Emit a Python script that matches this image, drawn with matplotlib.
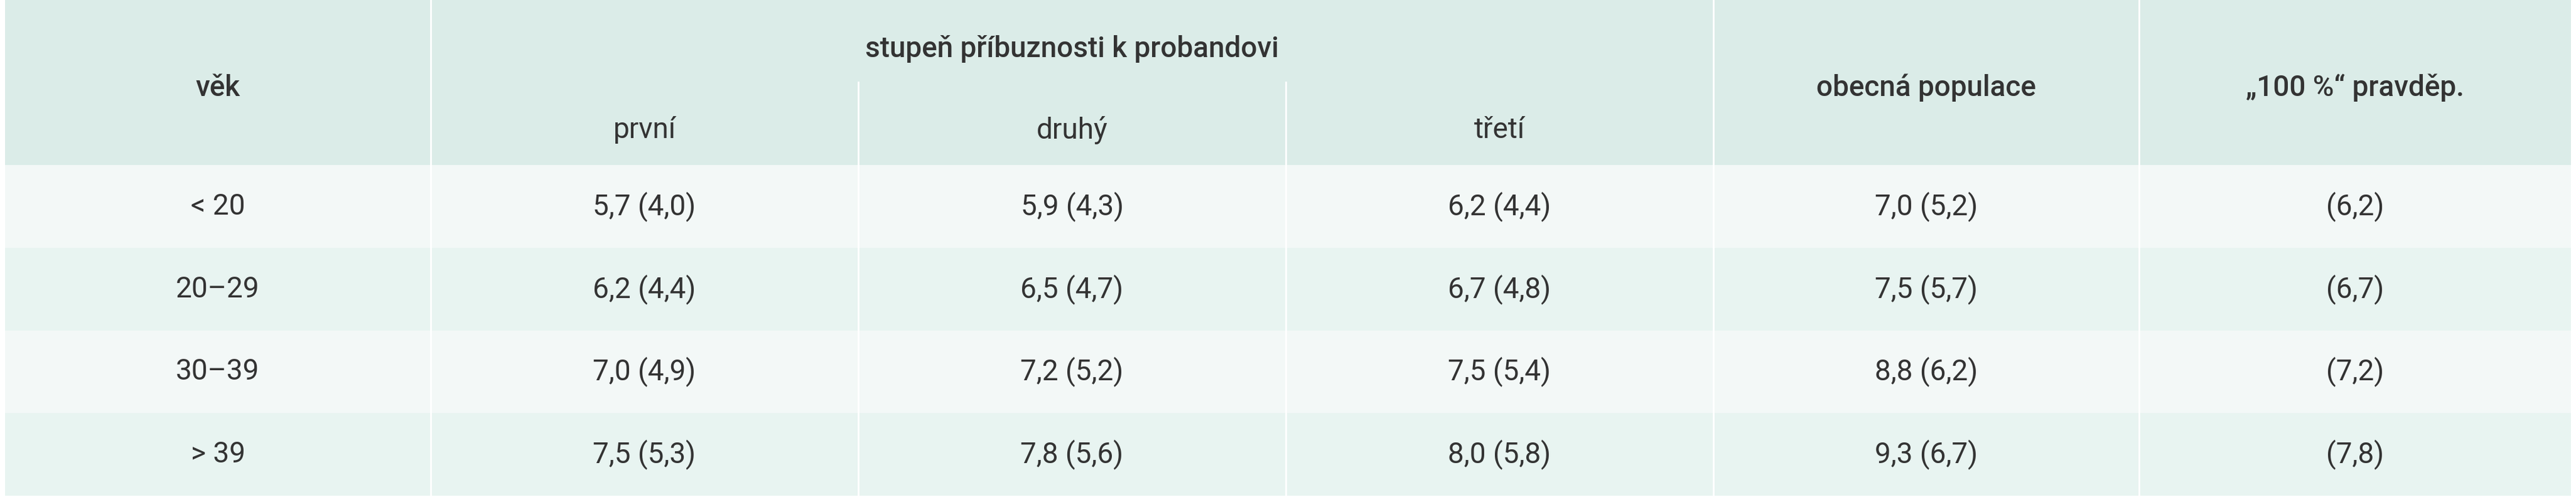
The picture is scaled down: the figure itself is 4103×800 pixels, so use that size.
import matplotlib.pyplot as plt
from matplotlib.patches import Rectangle

# table content
ages = ['< 20', '20–29', '30–39', '> 39']
prvni = ['5,7 (4,0)', '6,2 (4,4)', '7,0 (4,9)', '7,5 (5,3)']
druhy = ['5,9 (4,3)', '6,5 (4,7)', '7,2 (5,2)', '7,8 (5,6)']
treti = ['6,2 (4,4)', '6,7 (4,8)', '7,5 (5,4)', '8,0 (5,8)']
obecna = ['7,0 (5,2)', '7,5 (5,7)', '8,8 (6,2)', '9,3 (6,7)']
pravdep = ['(6,2)', '(6,7)', '(7,2)', '(7,8)']

header_main = 'stupeň příbuznosti k probandovi'
sub_headers = ['první', 'druhý', 'třetí']

# layout in pixels
W, H = 4103, 800
col_x = [8, 686, 1367, 2048, 2729, 3407, 4095]
head_bot = 263
row_h = 131.75
sub_top = 131

plt.rcParams['font.family'] = ['Roboto', 'DejaVu Sans']
fig = plt.figure(figsize=(W / 100, H / 100), dpi=100)
ax = fig.add_axes([0, 0, 1, 1])
ax.set_xlim(0, W)
ax.set_ylim(H, 0)
ax.axis('off')

txt = '#333333'
fs = 33

ax.add_patch(Rectangle((col_x[0], 0), col_x[-1] - col_x[0], head_bot, color='#dbece8', lw=0))
row_cols = ['#f3f8f7', '#e8f4f1']
for i in range(4):
    y0 = head_bot + i * row_h
    ax.add_patch(Rectangle((col_x[0], y0), col_x[-1] - col_x[0], row_h, color=row_cols[i % 2], lw=0))

# white dividers
y_end = head_bot + 4 * row_h
for k, x in enumerate(col_x[1:-1], start=1):
    top = sub_top if k in (2, 3) else 0
    ax.plot([x, x], [top, y_end], color='white', lw=2)

def mid(a, b):
    return (col_x[a] + col_x[b]) / 2

hw = 'medium'
ax.text(mid(0, 1), 140, 'věk', ha='center', va='center', fontsize=fs, color=txt, fontweight=hw)
ax.text(mid(1, 4), 78, header_main, ha='center', va='center', fontsize=fs, color=txt, fontweight=hw)
for j, s in enumerate(sub_headers):
    ax.text(mid(1 + j, 2 + j), 207, s, ha='center', va='center', fontsize=fs, color=txt)
ax.text(mid(4, 5), 140, 'obecná populace', ha='center', va='center', fontsize=fs, color=txt, fontweight=hw)
ax.text(mid(5, 6), 140, '„100 %“ pravděp.', ha='center', va='center', fontsize=fs, color=txt, fontweight=hw)

cols = [ages, prvni, druhy, treti, obecna, pravdep]
for i in range(4):
    yc = head_bot + (i + 0.5) * row_h
    for j, c in enumerate(cols):
        ax.text(mid(j, j + 1), yc, c[i], ha='center', va='center', fontsize=fs, color=txt)

fig.savefig('out.png', dpi=100, facecolor='white')
